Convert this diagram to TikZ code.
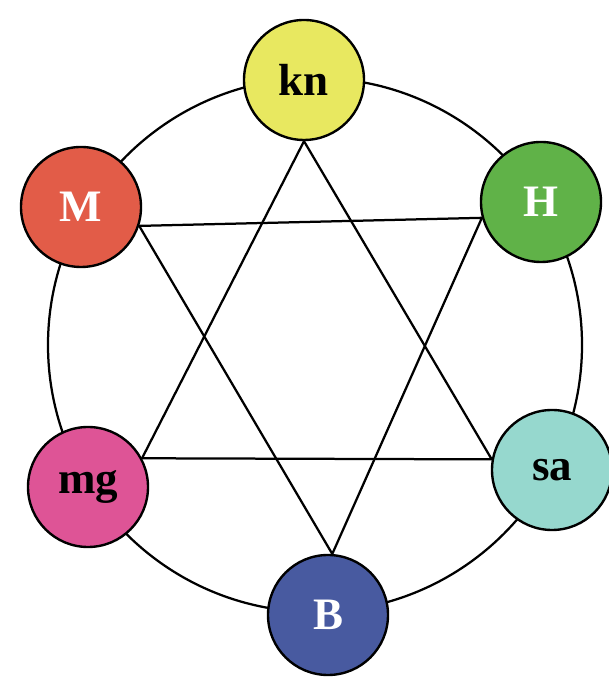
\documentclass[tikz,border=0pt]{standalone}
\usepackage{fontspec}
\setmainfont{Liberation Serif}
\usepackage{tikz}
\usetikzlibrary{calc}

\definecolor{knyellow}{RGB}{232,232,96}
\definecolor{hgreen}{RGB}{96,178,72}
\definecolor{sacyan}{RGB}{150,216,206}
\definecolor{bblue}{RGB}{72,90,160}
\definecolor{mgpink}{RGB}{222,84,150}
\definecolor{mred}{RGB}{226,92,72}

\begin{document}
\begin{tikzpicture}[
  ball/.style={circle, draw, line width=1.7pt, minimum size=3cm, inner sep=0pt,
    font=\fontsize{32}{32}\selectfont\bfseries},
  line width=1.6pt
]
  \useasboundingbox (0,0) rectangle (15.2,16.925);
  \draw (7.875,8.3) circle (6.675);
  \node[ball, fill=knyellow] (kn) at (7.6,14.925) {kn};
  \node[ball, fill=hgreen, text=white] (H) at (13.525,11.875) {H};
  \node[ball, fill=sacyan] (sa) at (13.8,5.175) {sa};
  \node[ball, fill=bblue, text=white] (B) at (8.2,1.55) {B};
  \node[ball, fill=mgpink] (mg) at (2.2,4.75) {mg};
  \node[ball, fill=mred, text=white] (M) at (2.025,11.75) {M};
  \draw (kn.-90) -- (sa.170) -- (mg.28) -- cycle;
  \draw (M.-18) -- (H.195) -- (B.86) -- cycle;
\end{tikzpicture}
\end{document}
